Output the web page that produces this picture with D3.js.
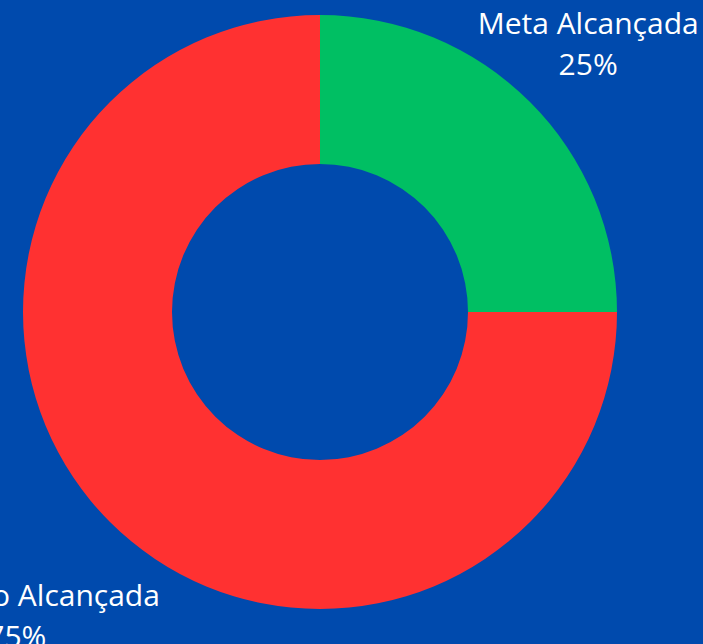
<!DOCTYPE html>
<html>
<head>
<meta charset="utf-8">
<script src="https://cdn.jsdelivr.net/npm/d3@7"></script>
<style>
  html, body { margin: 0; padding: 0; background: #004aad; overflow: hidden; }
  text { font-family: "Open Sans", sans-serif; }
</style>
</head>
<body>
<div id="donut"></div>
<script>
// data
const categories = ["Meta Alcançada", "Meta Não Alcançada"];
const values = [25, 75];
const valueLabels = ["25%", "75%"];
const colors = ["#00bf63", "#ff3131"];

const width = 703;
const height = 644;
const cx = 320;
const cy = 312;
const outerR = 297;
const innerR = 148;
const labelR = 404;

d3.select("#donut").selectAll("*").remove();

const svg = d3
  .select("#donut")
  .append("svg")
  .attr("width", width)
  .attr("height", height);

svg.append("rect")
  .attr("width", width)
  .attr("height", height)
  .attr("fill", "#004aad");

const g = svg.append("g").attr("transform", `translate(${cx},${cy})`);

const data = categories.map((c, i) => ({ name: c, value: values[i], label: valueLabels[i] }));

const color = d3.scaleOrdinal().domain(categories).range(colors);

const pie = d3.pie().sort(null).value(d => d.value);
const arcs = pie(data);

const arc = d3.arc().innerRadius(innerR).outerRadius(outerR);
const labelArc = d3.arc().innerRadius(labelR).outerRadius(labelR);

// === Slices ===
g.selectAll("path")
  .data(arcs)
  .join("path")
  .attr("d", arc)
  .attr("fill", d => color(d.data.name));

// === Labels ===
const labels = g.selectAll(".label")
  .data(arcs)
  .join("text")
  .attr("class", "label")
  .attr("text-anchor", "middle")
  .attr("fill", "#ffffff")
  .style("font-size", "30px")
  .attr("transform", d => {
    const [x, y] = labelArc.centroid(d);
    return `translate(${x - 17.5},${y + 8})`;
  });

labels.append("tspan")
  .attr("x", 0)
  .attr("y", 0)
  .text(d => d.data.name);

labels.append("tspan")
  .attr("x", 0)
  .attr("y", 41)
  .text(d => d.data.label);
</script>
</body>
</html>
